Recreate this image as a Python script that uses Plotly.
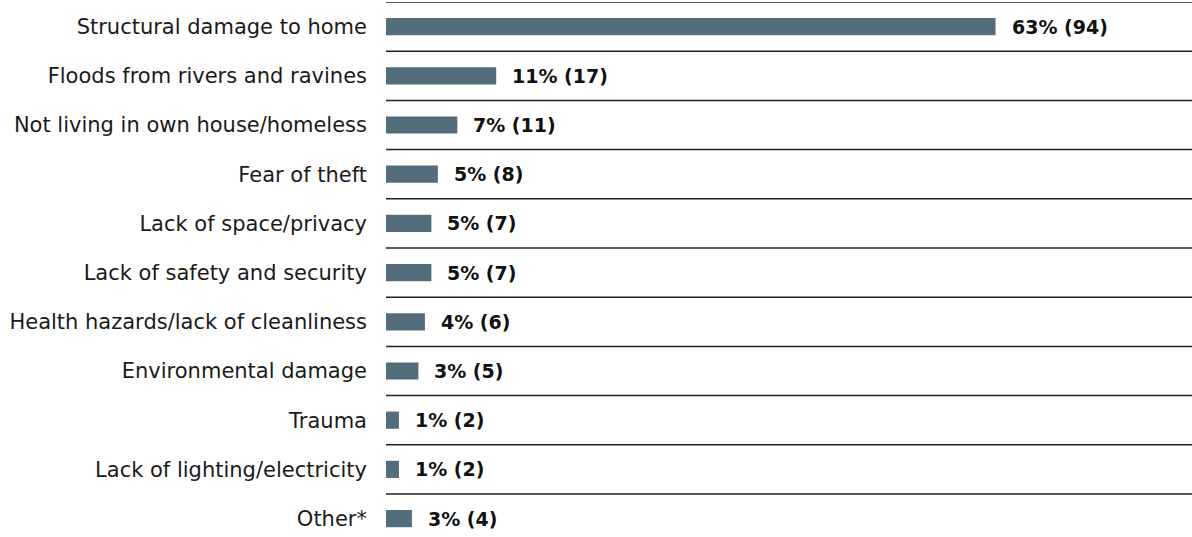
import plotly.graph_objects as go

categories = [
    "Structural damage to home",
    "Floods from rivers and ravines",
    "Not living in own house/homeless",
    "Fear of theft",
    "Lack of space/privacy",
    "Lack of safety and security",
    "Health hazards/lack of cleanliness",
    "Environmental damage",
    "Trauma",
    "Lack of lighting/electricity",
    "Other*",
]
percents = [63, 11, 7, 5, 5, 5, 4, 3, 1, 1, 3]
counts = [94, 17, 11, 8, 7, 7, 6, 5, 2, 2, 4]

FONT = "DejaVu Sans"
BAR_COLOR = "#536d7a"

idx = list(range(len(categories)))

fig = go.Figure()
fig.add_trace(go.Bar(
    x=counts, y=idx, orientation="h",
    marker=dict(color=BAR_COLOR, line=dict(width=0)),
    width=0.35, hoverinfo="skip",
))

for i, (p, c) in enumerate(zip(percents, counts)):
    fig.add_annotation(
        x=c, y=i, xref="x", yref="y",
        text=f"<b>{p}% ({c})</b>", showarrow=False,
        xanchor="left", yanchor="middle", xshift=14,
        font=dict(family=FONT, size=19, color="#111111"),
    )

for i in range(-1, len(categories) - 1):
    fig.add_shape(type="line", xref="paper", x0=0, x1=1,
                  yref="y", y0=i + 0.5, y1=i + 0.5,
                  line=dict(color="#222222", width=1.5))

fig.update_layout(
    width=1192, height=537,
    margin=dict(l=386, r=0, t=2, b=0),
    paper_bgcolor="white", plot_bgcolor="white",
    showlegend=False,
    xaxis=dict(range=[0, 124.3], visible=False, fixedrange=True),
    yaxis=dict(
        range=[10.374, -0.5], tickmode="array", tickvals=idx, ticktext=categories,
        showgrid=False, zeroline=False, showline=False, ticks="",
        ticklabelstandoff=18, fixedrange=True,
        tickfont=dict(family=FONT, size=21, color="#1a1a1a"),
    ),
)

fig.write_html("out.html", config={"displayModeBar": False},
               post_script="document.body.style.margin='0';")
